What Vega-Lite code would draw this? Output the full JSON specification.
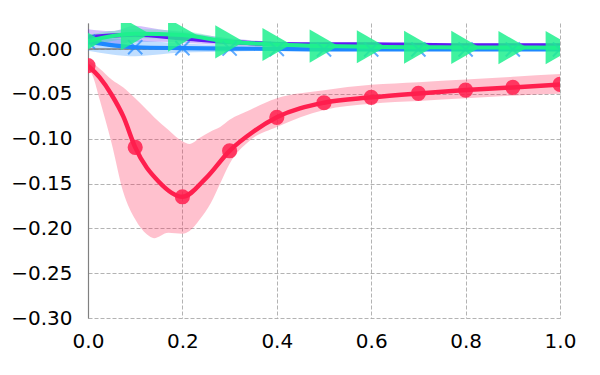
{
  "$schema": "https://vega.github.io/schema/vega-lite/v6.json",
  "width": 472,
  "height": 295,
  "autosize": {"type": "none"},
  "padding": {"left": 88, "top": 23, "right": 40, "bottom": 57},
  "config": {
    "view": {"stroke": null},
    "font": "DejaVu Sans",
    "axis": {
      "grid": true,
      "gridDash": [4, 2],
      "gridColor": "#a0a0a0",
      "gridWidth": 0.8,
      "ticks": false,
      "labelFontSize": 20,
      "labelColor": "#000000",
      "labelFont": "DejaVu Sans",
      "labelPadding": 14,
      "title": null
    }
  },
  "datasets": {
    "band": [
      {"s": "red", "x": 0, "lo": -0.022, "hi": -0.013},
      {"s": "red", "x": 0.01, "lo": -0.03, "hi": -0.016},
      {"s": "red", "x": 0.025, "lo": -0.057, "hi": -0.022},
      {"s": "red", "x": 0.05, "lo": -0.105, "hi": -0.034},
      {"s": "red", "x": 0.075, "lo": -0.16, "hi": -0.043},
      {"s": "red", "x": 0.1, "lo": -0.19, "hi": -0.055},
      {"s": "red", "x": 0.125, "lo": -0.207, "hi": -0.068},
      {"s": "red", "x": 0.14, "lo": -0.211, "hi": -0.076},
      {"s": "red", "x": 0.17, "lo": -0.205, "hi": -0.09},
      {"s": "red", "x": 0.2, "lo": -0.206, "hi": -0.103},
      {"s": "red", "x": 0.215, "lo": -0.203, "hi": -0.106},
      {"s": "red", "x": 0.237, "lo": -0.19, "hi": -0.099},
      {"s": "red", "x": 0.26, "lo": -0.172, "hi": -0.092},
      {"s": "red", "x": 0.28, "lo": -0.15, "hi": -0.087},
      {"s": "red", "x": 0.3, "lo": -0.128, "hi": -0.079},
      {"s": "red", "x": 0.343, "lo": -0.102, "hi": -0.068},
      {"s": "red", "x": 0.4, "lo": -0.087, "hi": -0.055},
      {"s": "red", "x": 0.5, "lo": -0.068, "hi": -0.046},
      {"s": "red", "x": 0.6, "lo": -0.061, "hi": -0.040},
      {"s": "red", "x": 0.7, "lo": -0.058, "hi": -0.037},
      {"s": "red", "x": 0.8, "lo": -0.055, "hi": -0.034},
      {"s": "red", "x": 0.9, "lo": -0.052, "hi": -0.031},
      {"s": "red", "x": 1.0, "lo": -0.050, "hi": -0.028},
      {"s": "purple", "x": 0, "lo": 0.006, "hi": 0.022},
      {"s": "purple", "x": 0.05, "lo": 0.004, "hi": 0.020},
      {"s": "purple", "x": 0.1, "lo": 0.008, "hi": 0.026},
      {"s": "purple", "x": 0.15, "lo": 0.008, "hi": 0.022},
      {"s": "purple", "x": 0.2, "lo": 0.007, "hi": 0.019},
      {"s": "purple", "x": 0.3, "lo": 0.004, "hi": 0.012},
      {"s": "purple", "x": 0.4, "lo": 0.002, "hi": 0.008},
      {"s": "purple", "x": 0.5, "lo": 0.002, "hi": 0.007},
      {"s": "purple", "x": 0.6, "lo": 0.002, "hi": 0.007},
      {"s": "purple", "x": 0.7, "lo": 0.002, "hi": 0.006},
      {"s": "purple", "x": 0.8, "lo": 0.002, "hi": 0.006},
      {"s": "purple", "x": 0.9, "lo": 0.002, "hi": 0.006},
      {"s": "purple", "x": 1.0, "lo": 0.002, "hi": 0.006},
      {"s": "blue", "x": 0, "lo": -0.002, "hi": 0.014},
      {"s": "blue", "x": 0.05, "lo": -0.006, "hi": 0.012},
      {"s": "blue", "x": 0.1, "lo": -0.008, "hi": 0.010},
      {"s": "blue", "x": 0.15, "lo": -0.006, "hi": 0.008},
      {"s": "blue", "x": 0.2, "lo": -0.004, "hi": 0.006},
      {"s": "blue", "x": 0.3, "lo": -0.003, "hi": 0.004},
      {"s": "blue", "x": 0.4, "lo": -0.002, "hi": 0.002},
      {"s": "blue", "x": 0.6, "lo": -0.002, "hi": 0.002},
      {"s": "blue", "x": 0.8, "lo": -0.002, "hi": 0.002},
      {"s": "blue", "x": 1.0, "lo": -0.002, "hi": 0.002},
      {"s": "green", "x": 0, "lo": 0.002, "hi": 0.016},
      {"s": "green", "x": 0.1, "lo": 0.012, "hi": 0.022},
      {"s": "green", "x": 0.2, "lo": 0.011, "hi": 0.020},
      {"s": "green", "x": 0.3, "lo": 0.005, "hi": 0.011},
      {"s": "green", "x": 0.4, "lo": 0.002, "hi": 0.007},
      {"s": "green", "x": 0.5, "lo": 0.001, "hi": 0.005},
      {"s": "green", "x": 0.6, "lo": 0.0, "hi": 0.004},
      {"s": "green", "x": 0.8, "lo": 0.0, "hi": 0.003},
      {"s": "green", "x": 1.0, "lo": 0.0, "hi": 0.003}
    ],
    "line": [
      {"s": "red", "x": 0, "y": -0.0186},
      {"s": "red", "x": 0.025, "y": -0.032},
      {"s": "red", "x": 0.05, "y": -0.051},
      {"s": "red", "x": 0.075, "y": -0.0755},
      {"s": "red", "x": 0.1, "y": -0.1097},
      {"s": "red", "x": 0.15, "y": -0.148},
      {"s": "red", "x": 0.2, "y": -0.1648},
      {"s": "red", "x": 0.25, "y": -0.144},
      {"s": "red", "x": 0.3, "y": -0.1135},
      {"s": "red", "x": 0.35, "y": -0.0923},
      {"s": "red", "x": 0.4, "y": -0.0762},
      {"s": "red", "x": 0.5, "y": -0.0599},
      {"s": "red", "x": 0.6, "y": -0.0539},
      {"s": "red", "x": 0.7, "y": -0.0495},
      {"s": "red", "x": 0.8, "y": -0.0458},
      {"s": "red", "x": 0.9, "y": -0.0428},
      {"s": "red", "x": 1.0, "y": -0.0395},
      {"s": "purple", "x": 0, "y": 0.013},
      {"s": "purple", "x": 0.1, "y": 0.016},
      {"s": "purple", "x": 0.2, "y": 0.012},
      {"s": "purple", "x": 0.3, "y": 0.008},
      {"s": "purple", "x": 0.4, "y": 0.0055},
      {"s": "purple", "x": 0.5, "y": 0.005},
      {"s": "purple", "x": 0.6, "y": 0.005},
      {"s": "purple", "x": 0.7, "y": 0.0045},
      {"s": "purple", "x": 0.8, "y": 0.004},
      {"s": "purple", "x": 0.9, "y": 0.004},
      {"s": "purple", "x": 1.0, "y": 0.004},
      {"s": "blue", "x": 0, "y": 0.008},
      {"s": "blue", "x": 0.1, "y": 0.002},
      {"s": "blue", "x": 0.2, "y": 0.001},
      {"s": "blue", "x": 0.3, "y": 0.0005},
      {"s": "blue", "x": 0.4, "y": 0.0},
      {"s": "blue", "x": 0.5, "y": -0.0005},
      {"s": "blue", "x": 0.6, "y": -0.0005},
      {"s": "blue", "x": 0.7, "y": -0.0005},
      {"s": "blue", "x": 0.8, "y": -0.0005},
      {"s": "blue", "x": 0.9, "y": -0.0005},
      {"s": "blue", "x": 1.0, "y": -0.0005},
      {"s": "green", "x": 0, "y": 0.009},
      {"s": "green", "x": 0.1, "y": 0.017},
      {"s": "green", "x": 0.2, "y": 0.0155},
      {"s": "green", "x": 0.3, "y": 0.008},
      {"s": "green", "x": 0.4, "y": 0.005},
      {"s": "green", "x": 0.5, "y": 0.0033},
      {"s": "green", "x": 0.6, "y": 0.0025},
      {"s": "green", "x": 0.7, "y": 0.002},
      {"s": "green", "x": 0.8, "y": 0.0018},
      {"s": "green", "x": 0.9, "y": 0.0016},
      {"s": "green", "x": 1.0, "y": 0.0015}
    ],
    "zero": [{"y": 0}]
  },
  "layer": [
    {
      "data": {"name": "band"},
      "mark": {"type": "area", "opacity": 0.28, "interpolate": "monotone", "clip": true},
      "encoding": {
        "x": {"field": "x", "type": "quantitative", "scale": {"domain": [0, 1], "nice": false, "zero": false},
          "axis": {"values": [0, 0.2, 0.4, 0.6, 0.8, 1.0], "format": ".1f", "domain": false, "labelFlush": false, "labelFontSize": 20, "labelPadding": 13}},
        "y": {"field": "lo", "type": "quantitative", "scale": {"domain": [-0.3, 0.029], "nice": false, "zero": false},
          "axis": {"values": [-0.3, -0.25, -0.2, -0.15, -0.1, -0.05, 0], "format": ".2f", "domain": true, "domainColor": "#808080", "domainWidth": 1.2, "labelFlush": false, "labelFontSize": 20, "labelPadding": 16}},
        "y2": {"field": "hi"},
        "color": {"field": "s", "type": "nominal", "legend": null,
          "scale": {"domain": ["red", "purple", "blue", "green"], "range": ["#ff1f4e", "#6019f5", "#1e88ff", "#1ef08e"]}},
        "detail": {"field": "s"}
      }
    },
    {
      "data": {"name": "zero"},
      "mark": {"type": "rule", "color": "#808080", "strokeWidth": 1.4},
      "encoding": {"y": {"field": "y", "type": "quantitative"}}
    },
    {
      "data": {"name": "line"},
      "mark": {"type": "line", "interpolate": "monotone", "clip": true},
      "encoding": {
        "x": {"field": "x", "type": "quantitative"},
        "y": {"field": "y", "type": "quantitative"},
        "color": {"field": "s", "type": "nominal", "legend": null},
        "strokeWidth": {"field": "s", "type": "nominal", "legend": null,
          "scale": {"domain": ["red", "purple", "blue", "green"], "range": [4.5, 4, 3, 5]}}
      }
    },
    {
      "data": {"name": "line"},
      "transform": [{"filter": "datum.s == 'red' && abs(datum.x * 10 - round(datum.x * 10)) < 0.000001"}],
      "mark": {"type": "point", "shape": "circle", "filled": true, "size": 230, "opacity": 0.85, "color": "#ff1f4e", "clip": true},
      "encoding": {
        "x": {"field": "x", "type": "quantitative"},
        "y": {"field": "y", "type": "quantitative"}
      }
    },
    {
      "data": {"name": "line"},
      "transform": [{"filter": "datum.s == 'blue'"}],
      "mark": {"type": "point", "shape": "M-1,-1L1,1M-1,1L1,-1", "filled": false, "size": 200, "strokeWidth": 2, "color": "#1e88ff", "clip": true},
      "encoding": {
        "x": {"field": "x", "type": "quantitative"},
        "y": {"field": "y", "type": "quantitative"}
      }
    },
    {
      "data": {"name": "line"},
      "transform": [{"filter": "datum.s == 'green'"}],
      "mark": {"type": "point", "shape": "triangle-right", "filled": true, "size": 1100, "opacity": 0.85, "color": "#1ef08e", "clip": true},
      "encoding": {
        "x": {"field": "x", "type": "quantitative"},
        "y": {"field": "y", "type": "quantitative"}
      }
    }
  ]
}
